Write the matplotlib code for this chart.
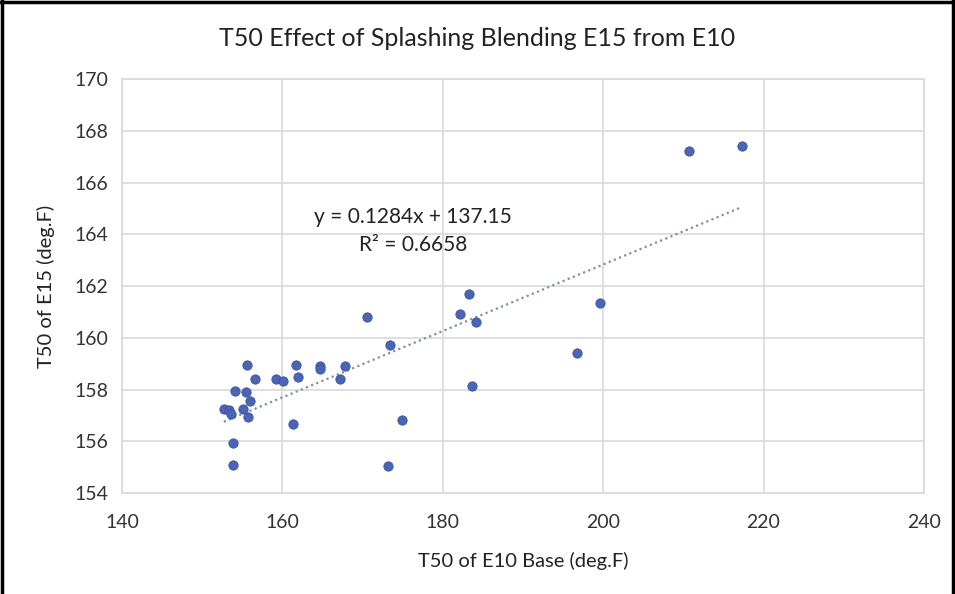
import matplotlib
matplotlib.use("Agg")
import matplotlib.pyplot as plt
import numpy as np
from matplotlib.lines import Line2D

# ---- data ----
e10_t50 = [152.7, 153.3, 153.6, 153.9, 153.9, 154.1, 155.1, 155.5, 155.6, 155.7,
           156.0, 156.6, 159.2, 160.1, 161.3, 161.7, 162.0, 164.7, 164.7, 167.2,
           167.8, 170.6, 173.2, 173.4, 174.9, 182.2, 183.3, 183.6, 184.2, 196.8,
           199.6, 210.7, 217.3]
e15_t50 = [157.25, 157.2, 157.05, 155.93, 155.1, 157.95, 157.25, 157.89, 158.94, 156.94,
           157.54, 158.42, 158.42, 158.33, 156.65, 158.96, 158.5, 158.9, 158.8, 158.42,
           158.92, 160.82, 155.03, 159.73, 156.83, 160.92, 161.7, 158.12, 160.6, 159.43,
           161.34, 167.22, 167.42]
slope = 0.1284
intercept = 137.15
r_squared = 0.6658

title = "T50 Effect of Splashing Blending E15 from E10"
xlabel = "T50 of E10 Base (deg.F)"
ylabel = "T50 of E15 (deg.F)"
xticks = [140, 160, 180, 200, 220, 240]
yticks = [154, 156, 158, 160, 162, 164, 166, 168, 170]

plt.rcParams['font.family'] = ['Lato', 'DejaVu Sans']

W, H = 955, 594
fig = plt.figure(figsize=(W / 100, H / 100), dpi=100)
ax = fig.add_axes([0.1277, 0.170, 0.8398, 0.697])

grid_c = "#d9d9d9"
ax.set_xlim(140, 240)
ax.set_ylim(154, 170)
ax.set_xticks(xticks)
ax.set_yticks(yticks)
ax.grid(True, color=grid_c, linewidth=1.2)
ax.set_axisbelow(True)
for s in ax.spines.values():
    s.set_color(grid_c)
    s.set_linewidth(1.2)
ax.tick_params(length=0, labelsize=14, colors="#333333")
ax.tick_params(axis="x", pad=15)
ax.tick_params(axis="y", pad=10)

ax.scatter(e10_t50, e15_t50, s=45, color="#4a64b6", edgecolors="#3d55a3",
           linewidths=0.6, zorder=3)

xs = np.array([min(e10_t50), max(e10_t50)])
ax.plot(xs, slope * xs + intercept, linestyle=(0, (1, 1.5)), color="#8090a8",
        linewidth=1.6, zorder=2)

fig.text(413 / W, 1 - 217 / H, f"y = {slope}x + {intercept}", fontsize=15,
         ha="center", va="center", color="#222222")
fig.text(413 / W, 1 - 245 / H, f"R² = {r_squared}", fontsize=15,
         ha="center", va="center", color="#222222")

fig.text(0.5, 1 - 38 / H, title, ha="center", va="center", fontsize=18, color="#222222")
ax.set_xlabel(xlabel, fontsize=14.5, color="#222222", labelpad=15)
ax.set_ylabel(ylabel, fontsize=14.5, color="#222222", labelpad=14)

# outer frame (left, top, right)
for xy in [([0.002, 0.002], [0, 1]), ([0, 1], [0.997, 0.997]), ([0.998, 0.998], [0, 1])]:
    fig.add_artist(Line2D(xy[0], xy[1], color="black", linewidth=2.5, transform=fig.transFigure))

fig.savefig("out.png", dpi=100)
